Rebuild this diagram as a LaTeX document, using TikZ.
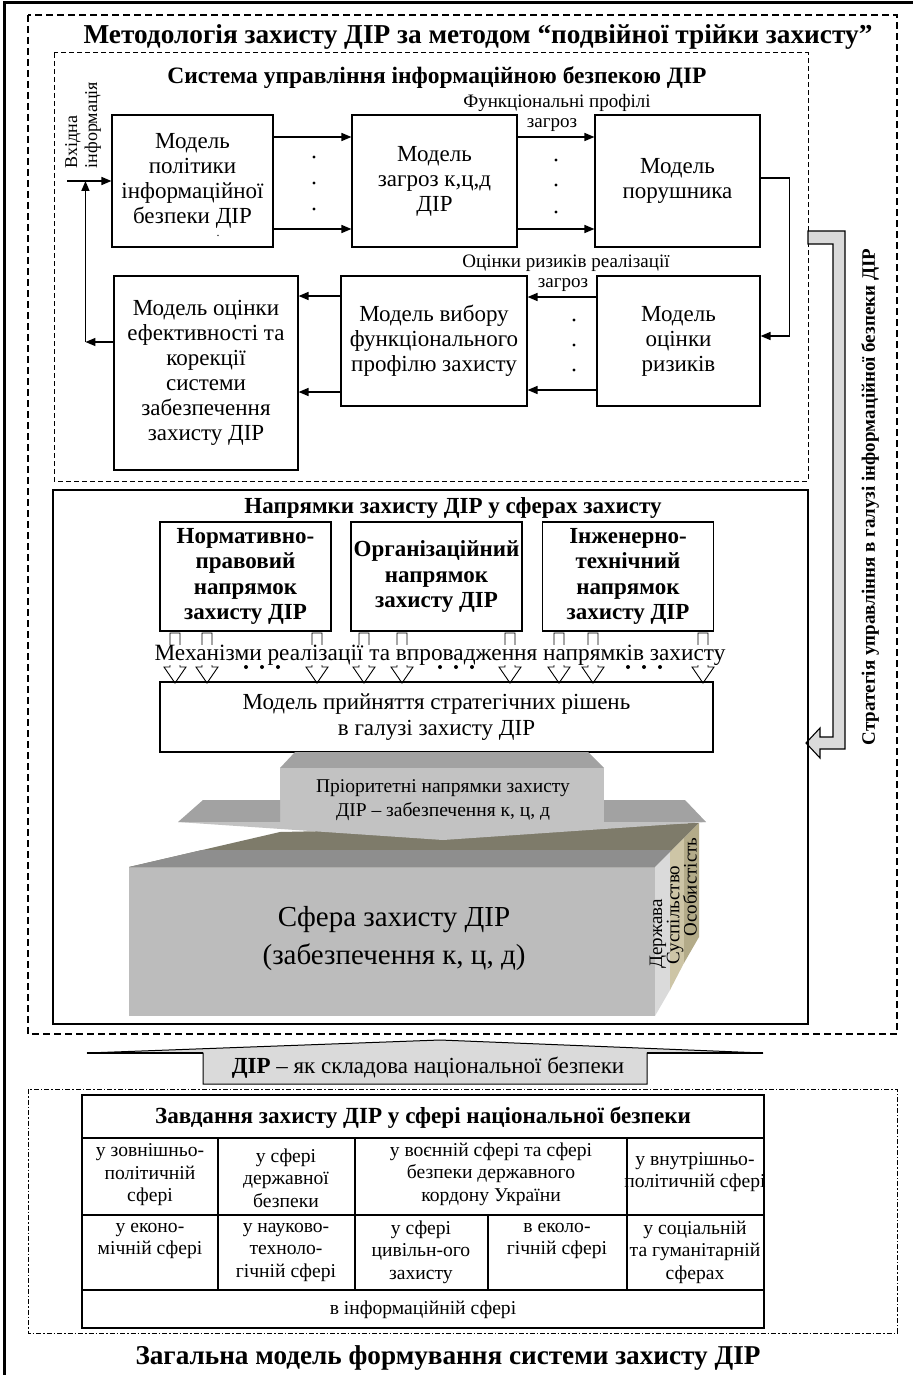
\documentclass[tikz,border=0pt]{standalone}
\usepackage{fontspec}
\setmainfont{Liberation Serif}
\usetikzlibrary{arrows.meta,calc}
\definecolor{arrfront}{HTML}{C2C2C2}
\definecolor{arrtop}{HTML}{A2A2A2}
\definecolor{boxfront}{HTML}{BCBCBC}
\definecolor{boxtop}{HTML}{7E7B6A}
\definecolor{boxband}{HTML}{8E8E8E}
\definecolor{sidea}{HTML}{DADADA}
\definecolor{sideb}{HTML}{CDC5A6}
\definecolor{sidec}{HTML}{B3AB89}
\begin{document}
\begin{tikzpicture}[x=1pt,y=-1pt,
  mbox/.style={draw,line width=1.1pt,align=center,inner sep=0pt,font=\fontsize{23}{25}\selectfont},
  nbox/.style={draw,line width=1.1pt,align=center,inner sep=0pt,minimum width=171pt,minimum height=109pt,font=\bfseries\fontsize{23}{25.5}\selectfont},
  lbl/.style={inner sep=0pt,font=\fontsize{19}{22}\selectfont},
  cell/.style={align=center,inner sep=0pt,font=\fontsize{19.6}{22.5}\selectfont},
  arr/.style={-{Triangle[length=10pt,width=8pt]},line width=1.5pt},
  dotmark/.style={circle,fill,inner sep=0pt,minimum size=3.4pt}]
\useasboundingbox (0,0) rectangle (913,1375);
\draw[line width=3pt](4,1375)--(4,3)--(913,3);
\draw[line width=1.3pt,dash pattern=on 7pt off 4pt](28,15) rectangle (897,1034);
\node[font=\bfseries\fontsize{27.3}{30}\selectfont] (title) at (478,37) {Методологія захисту ДІР за методом “подвійної трійки захисту”};
\draw[line width=1pt,dash pattern=on 5pt off 3pt](54,53) rectangle (808,481);
\node[font=\bfseries\fontsize{23.5}{26}\selectfont] (sys) at (437,78) {Система управління інформаційною безпекою ДІР};
\node[mbox,minimum width=161pt,minimum height=132pt] (pol) at (192.5,181) {Модель\\політики\\інформаційної\\безпеки ДІР};
\node[inner sep=0pt,font=\fontsize{12}{12}\selectfont] (stray) at (218,236) {.};
\node[mbox,minimum width=165pt,minimum height=132pt] (thr) at (434.5,181) {Модель\\загроз к,ц,д\\ДІР};
\node[mbox,minimum width=165pt,minimum height=132pt] (intr) at (677.5,181) {Модель\\порушника};
\node[mbox,minimum width=163pt,minimum height=130pt] (risk) at (678.5,341) {Модель\\оцінки\\ризиків};
\node[mbox,minimum width=186pt,minimum height=130pt] (prof) at (434,341) {Модель вибору\\функціонального\\профілю захисту};
\node[mbox,minimum width=184pt,minimum height=194pt] (eff) at (206,373) {Модель оцінки\\ефективності та\\корекції\\системи\\забезпечення\\захисту ДІР};
\draw[arr]([yshift=44pt]pol.east)--([yshift=44pt]thr.west);
\draw[arr]([yshift=-48pt]pol.east)--([yshift=-48pt]thr.west);
\draw[arr]([yshift=44pt]thr.east)--([yshift=44pt]intr.west);
\draw[arr]([yshift=-48pt]thr.east)--([yshift=-48pt]intr.west);
\node[lbl] (fp) at (557,103) {Функціональні профілі};
\node[lbl] (fp2) at (552,125) {загроз};
\foreach \y in {157,183,209} \node[dotmark] at (314,\y) {};
\foreach \y in {160,185,212} \node[dotmark] at (556,\y) {};
\draw[arr]([yshift=3pt]intr.east)--++(29,0)|-([yshift=5pt]risk.east);
\draw[arr]([yshift=44pt]risk.west)--([yshift=44pt]prof.east);
\draw[arr]([yshift=-49pt]risk.west)--([yshift=-49pt]prof.east);
\node[lbl] (ro) at (566,263) {Оцінки ризиків реалізації};
\node[lbl] (ro2) at (563,285) {загроз};
\foreach \y in {320,345,370} \node[dotmark] at (574,\y) {};
\draw[arr]([yshift=45pt]prof.west)--($(prof.west -| eff.east)+(0,-45)$);
\draw[arr]([yshift=-51pt]prof.west)--($(prof.west -| eff.east)+(0,51)$);
\draw[arr]([yshift=31pt]eff.west)--++(-28,0) coordinate (fb);
\draw[arr](fb)--(fb |- pol.west);
\coordinate (inp) at (67,181);
\draw[arr](inp)--(pol.west);
\node[rotate=90,align=left,inner sep=0pt,font=\fontsize{18}{20}\selectfont] (inlbl) at (83,125) {Вхідна\\інформація};
\draw[line width=1.1pt,fill=sidea](808,231)--(845,231)--(845,749)--(820,749)--(820,758)--(806,743)--(820,728)--(820,737)--(833,737)--(833,244)--(808,244)--cycle;
\node[rotate=90,font=\bfseries\fontsize{19}{22}\selectfont] (strat) at (870,497) {Стратегія управління в галузі інформаційної безпеки ДІР};
\draw[line width=1.1pt](53,490) rectangle (808,1024);
\node[font=\bfseries\fontsize{23}{26}\selectfont] (dir) at (453,508) {Напрямки захисту ДІР у сферах захисту};
\node[nbox] (legal) at (245.5,576.5) {Нормативно-\\правовий\\напрямок\\захисту ДІР};
\node[nbox] (org) at (436.5,576.5) {Організаційний\\напрямок\\захисту ДІР};
\node[nbox] (tech) at (628,576.5) {Інженерно-\\технічний\\напрямок\\захисту ДІР};
\foreach \x in {175,207,317,364,402,510,559,593,703}
  \draw[line width=0.9pt,fill=white](\x-5,633)--(\x+5,633)--(\x+5,667)--(\x+11,667)--(\x,683)--(\x-11,667)--(\x-5,667)--cycle;
\node[fill=white,inner sep=0pt,font=\fontsize{23.3}{26}\selectfont] (mech) at (440,655) {Механізми реалізації та впровадження напрямків захисту};
\foreach \x in {246,262,278,440,456,472,628,644,660} \fill (\x,667) circle (2pt);
\node[mbox,minimum width=553pt,minimum height=70pt,font=\fontsize{23}{26}\selectfont] (dec) at (436.5,717) {Модель прийняття стратегічних рішень\\в галузі захисту ДІР};
\fill[boxfront](129,867) rectangle (655,1016);
\fill[boxtop](129,867)--(280,832)--(699,823)--(655,867)--cycle;
\fill[boxband](129,867)--(202,850)--(672,850)--(655,867)--cycle;
\fill[sidea](655,867)--(670,852)--(670,990)--(655,1016)--cycle;
\fill[sideb](670,852)--(684,838)--(684,963)--(670,990)--cycle;
\fill[sidec](684,838)--(699,823)--(699,937)--(684,963)--cycle;
\node[rotate=90,inner sep=0pt,font=\fontsize{19}{20}\selectfont] (st) at (658,934) {Держава};
\node[rotate=90,inner sep=0pt,font=\fontsize{19}{20}\selectfont] (soc) at (675,915) {Суспільство};
\node[rotate=90,inner sep=0pt,font=\fontsize{19}{20}\selectfont] (pers) at (690,887) {Особистість};
\node[align=center,font=\fontsize{29}{38}\selectfont] (sph) at (394,939) {Сфера захисту ДІР\\(забезпечення к, ц, д)};
\fill[arrtop](280,768)--(295,752)--(588,752)--(604,768)--cycle;
\fill[arrfront](280,768) rectangle (604,822);
\fill[arrtop](203,800)--(280,800)--(280,822)--(178,822)--cycle;
\fill[arrtop](604,800)--(685,800)--(706,822)--(604,822)--cycle;
\fill[arrfront](178,822)--(706,822)--(443,840)--cycle;
\node[align=center,font=\fontsize{19.5}{24}\selectfont] (prio) at (443,800) {Пріоритетні напрямки захисту\\ДІР – забезпечення к, ц, д};
\draw[line width=1pt,fill=sidea](87,1053)--(440,1040)--(763,1053)--(647,1053)--(647,1084)--(203,1084)--(203,1053)--cycle;
\draw[line width=2pt](87,1053)--(203,1053) (647,1053)--(763,1053);
\node[font=\fontsize{23}{26}\selectfont] (nat) at (428,1068) {\textbf{ДІР} – як складова національної безпеки};
\draw[line width=1pt,dash pattern=on 5pt off 2pt on 1.5pt off 2pt](28,1089) rectangle (897,1333);
\draw[line width=1.1pt](82,1095) rectangle (764,1328);
\draw[line width=1.1pt](82,1138)--(764,1138) (82,1215)--(764,1215) (82,1290)--(764,1290);
\foreach \x in {218,355,627} \draw[line width=1.1pt](\x,1138)--(\x,1290);
\draw[line width=1.1pt](488,1215)--(488,1290);
\node[font=\bfseries\fontsize{23.1}{25}\selectfont] (task) at (423,1118) {Завдання захисту ДІР у сфері національної безпеки};
\node[cell] (c1) at (150,1175) {у зовнішньо-\\політичній\\сфері};
\node[cell] (c2) at (286,1178) {у сфері\\державної\\безпеки};
\node[cell] (c3) at (491,1174) {у воєнній сфері та сфері\\безпеки державного\\кордону України};
\node[cell] (c4) at (695,1172) {у внутрішньо-\\політичній сфері};
\node[cell] (c5) at (150,1241) {у еконо-\\мічній сфері};
\node[cell] (c6) at (286,1252) {у науково-\\техноло-\\гічній сфері};
\node[cell] (c7) at (421,1252) {у сфері\\цивільн-ого\\захисту};
\node[cell] (c8) at (557,1241) {в еколо-\\гічній сфері};
\node[cell] (c9) at (695,1252) {у соціальній\\та гуманітарній\\сферах};
\node[cell] (c10) at (423,1310) {в інформаційній сфері};
\node[font=\bfseries\fontsize{27.2}{30}\selectfont] (cap) at (448,1358) {Загальна модель формування системи захисту ДІР};
\end{tikzpicture}
\end{document}
